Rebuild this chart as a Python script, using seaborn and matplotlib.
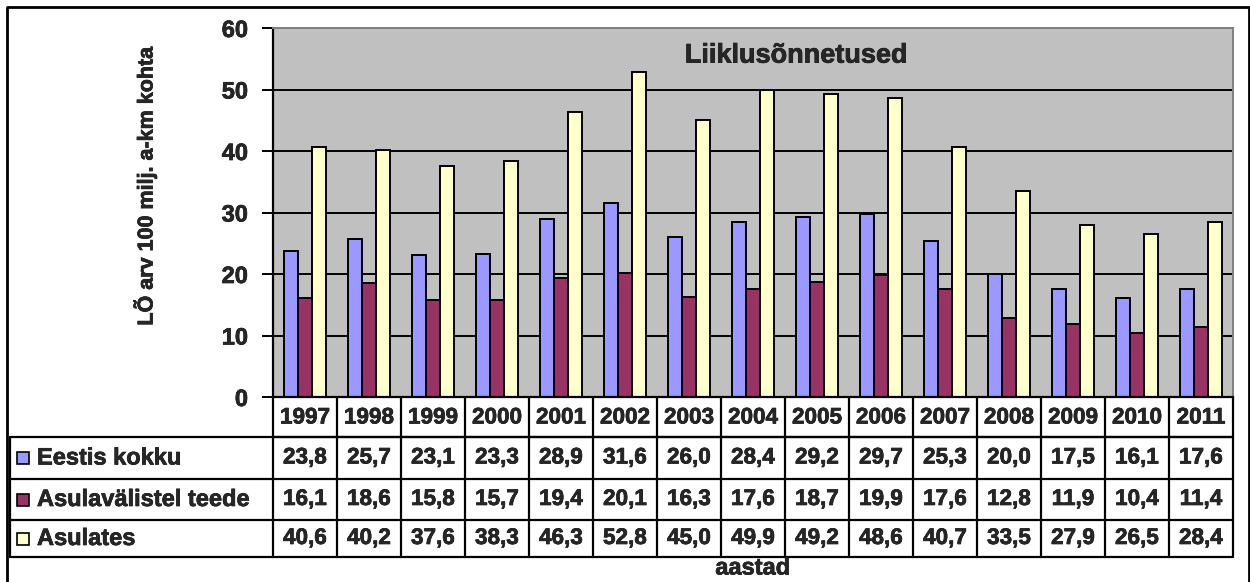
import matplotlib
matplotlib.use("Agg")
import matplotlib.pyplot as plt
import matplotlib.patheffects as pe
import seaborn as sns
import pandas as pd
import numpy as np

years = ["1997", "1998", "1999", "2000", "2001", "2002", "2003", "2004",
         "2005", "2006", "2007", "2008", "2009", "2010", "2011"]
eestis_kokku = [23.8, 25.7, 23.1, 23.3, 28.9, 31.6, 26.0, 28.4, 29.2, 29.7, 25.3, 20.0, 17.5, 16.1, 17.6]
asulavalistel = [16.1, 18.6, 15.8, 15.7, 19.4, 20.1, 16.3, 17.6, 18.7, 19.9, 17.6, 12.8, 11.9, 10.4, 11.4]
asulates = [40.6, 40.2, 37.6, 38.3, 46.3, 52.8, 45.0, 49.9, 49.2, 48.6, 40.7, 33.5, 27.9, 26.5, 28.4]
series_names = ["Eestis kokku", "Asulavälistel teede", "Asulates"]
series_values = [eestis_kokku, asulavalistel, asulates]
colors = ["#9999FF", "#993366", "#FFFFCC"]
title = "Liiklusõnnetused"
ylabel = "LÕ arv 100 milj. a-km kohta"
xlabel = "aastad"

sns.set_theme(style="white")
plt.rcParams['font.family'] = ['Liberation Sans', 'DejaVu Sans']
plt.rcParams['font.weight'] = 'bold'

heavy = [pe.withStroke(linewidth=0.45, foreground="black")]

rows = []
for name, vals in zip(series_names, series_values):
    for y, v in zip(years, vals):
        rows.append({"aasta": y, "seeria": name, "väärtus": v})
df = pd.DataFrame(rows)

W, H = 1250, 582
fig = plt.figure(figsize=(W / 100, H / 100), dpi=100)
fig.patch.set_facecolor("white")

# pixel-coordinate overlay
ov = fig.add_axes([0, 0, 1, 1], zorder=0)
ov.set_xlim(0, W)
ov.set_ylim(H, 0)
ov.axis("off")

L, R, T, B = 273, 1233, 28, 397
ax = fig.add_axes([L / W, 1 - B / H, (R - L) / W, (B - T) / H], zorder=2)
sns.barplot(data=df, x="aasta", y="väärtus", hue="seeria", palette=colors,
            hue_order=series_names, order=years, width=0.67,
            edgecolor="black", linewidth=1.4, saturation=1, legend=False, ax=ax)
ax.set_facecolor("#C0C0C0")
ax.set_ylim(0, 60)
ax.set_xlim(-0.5, len(years) - 0.5)
ax.set_yticks(np.arange(0, 61, 10))
ax.yaxis.grid(True, color="black", linewidth=1.4)
ax.set_axisbelow(True)
ax.set_xticks([])
ax.set_xlabel("")
ax.set_ylabel("")
for s in ["top", "right"]:
    ax.spines[s].set_color("#808080")
    ax.spines[s].set_linewidth(1.4)
ax.spines["left"].set_color("black")
ax.spines["left"].set_linewidth(1.6)
ax.spines["bottom"].set_color("black")
ax.spines["bottom"].set_linewidth(1.6)
ax.tick_params(axis="y", direction="out", length=8, width=1.4, color="black",
               left=True, labelsize=17, pad=10)
for t in ax.get_yticklabels():
    t.set_fontweight("bold")
    t.set_path_effects(heavy)
ax.text(0.545, 0.925, title, transform=ax.transAxes, ha="center", va="center",
        fontsize=19.5, fontweight="bold", path_effects=heavy)

# outer frame
ov.plot([7, 7, 1249, 1249], [600, 7, 7, 600], color="black", lw=2, clip_on=False)

# y label
ov.text(145, 186, ylabel, rotation=90, ha="center", va="center",
        fontsize=15.5, fontweight="bold", path_effects=heavy)

# data table
n = len(years)
colw = (R - L) / n
row_y = [397, 437, 479, 520, 557]
lw = 1.6
fs = 16.2
ov.plot([L, R], [437, 437], color="black", lw=lw)
for i in range(n + 1):
    x = L + i * colw
    ov.plot([x, x], [397, 557], color="black", lw=lw)
for i, y in enumerate(years):
    ov.text(L + (i + 0.5) * colw, 418, y, ha="center", va="center",
            fontsize=fs, fontweight="bold", path_effects=heavy)
left = 10
for yv in row_y[1:]:
    ov.plot([left, R], [yv, yv], color="black", lw=lw)
ov.plot([left, left], [437, 557], color="black", lw=lw)
for r, (name, vals, c) in enumerate(zip(series_names, series_values, colors)):
    yc = (row_y[r + 1] + row_y[r + 2]) / 2
    ov.add_patch(plt.Rectangle((17, yc - 6), 12, 12, facecolor=c,
                               edgecolor="black", lw=1.2))
    ov.text(37, yc, name, ha="left", va="center", fontsize=17,
            fontweight="bold", path_effects=heavy)
    for i, v in enumerate(vals):
        ov.text(L + (i + 0.5) * colw, yc, f"{v:.1f}".replace(".", ","),
                ha="center", va="center", fontsize=fs, fontweight="bold",
                path_effects=heavy)

ov.text((L + R) / 2, 568, xlabel, ha="center", va="center",
        fontsize=17, fontweight="bold", path_effects=heavy)

fig.savefig("out.png", dpi=100)
